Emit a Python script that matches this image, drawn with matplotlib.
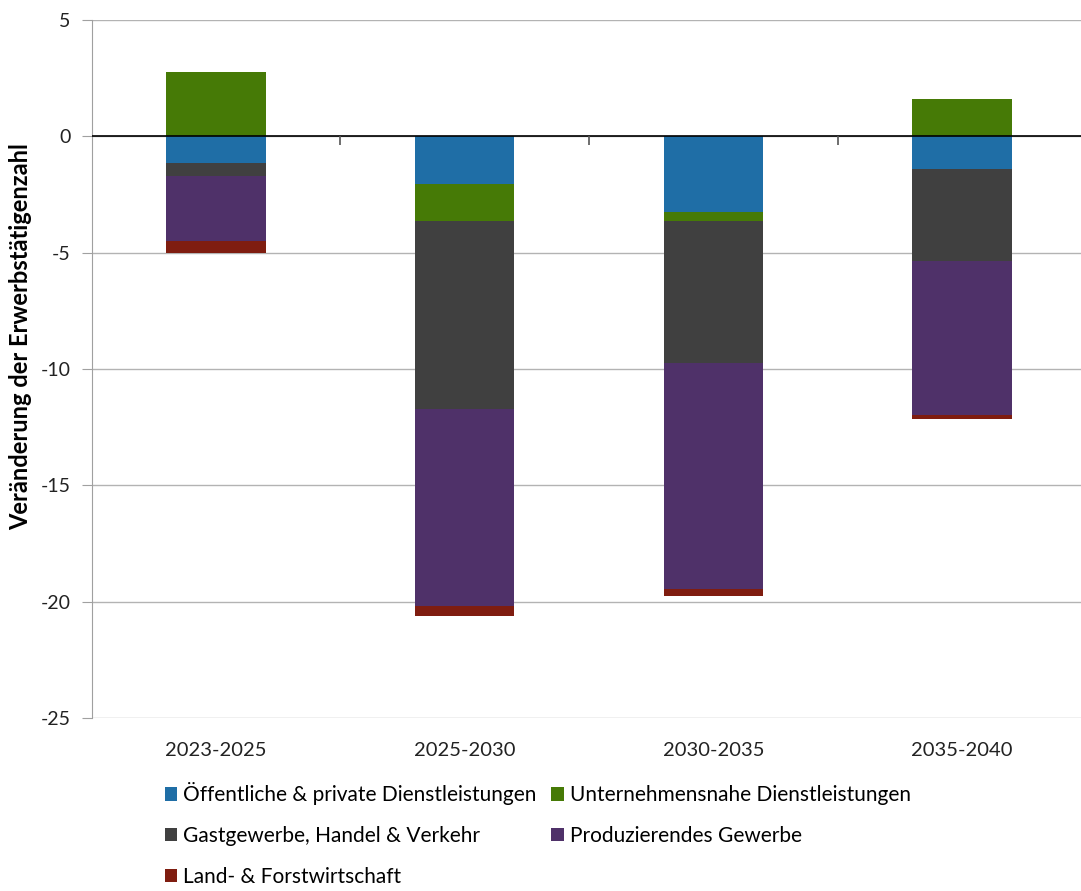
import numpy as np
import matplotlib
matplotlib.use('Agg')
import matplotlib.pyplot as plt

plt.rcParams['font.family'] = ['Lato', 'DejaVu Sans']
plt.rcParams['axes.unicode_minus'] = False

periods = ['2023-2025', '2025-2030', '2030-2035', '2035-2040']
names = ['Öffentliche & private Dienstleistungen', 'Unternehmensnahe Dienstleistungen',
         'Gastgewerbe, Handel & Verkehr', 'Produzierendes Gewerbe', 'Land- & Forstwirtschaft']
oeffentlich = [-1.15, -2.03, -3.24, -1.41]
unternehmen = [2.76, -1.61, -0.41, 1.60]
gastgewerbe = [-0.56, -8.09, -6.10, -3.95]
produzierend = [-2.79, -8.47, -9.69, -6.63]
land = [-0.53, -0.43, -0.33, -0.14]
colors = ['#1F6EA6', '#467A06', '#404040', '#4F3169', '#7F1D10']

series = [oeffentlich, unternehmen, gastgewerbe, produzierend, land]

fig = plt.figure(figsize=(10.81, 8.91), dpi=100)
ax = fig.add_axes([91.5/1081, 1 - 718/891, 995/1081, 698/891])

x = np.arange(len(periods))
pos = np.zeros(len(periods))
neg = np.zeros(len(periods))
bars = []
for vals, name, c in zip(series, names, colors):
    vals = np.array(vals)
    bottom = np.where(vals >= 0, pos, neg)
    b = ax.bar(x, vals, 0.4, bottom=bottom, color=c, label=name, zorder=3)
    bars.append(b)
    pos = np.where(vals >= 0, pos + vals, pos)
    neg = np.where(vals < 0, neg + vals, neg)

ax.set_xlim(-0.5, 3.5)
ax.set_ylim(-25, 5)
ax.set_yticks(np.arange(-25, 6, 5))
ax.grid(axis='y', color='#B3B3B3', linewidth=1, zorder=0)
ax.axhline(0, color='black', linewidth=1.2, zorder=4)
# category separators on the zero line
ax.vlines([0.5, 1.5, 2.5], -0.36, 0, color='#555555', linewidth=1.2, zorder=4)

for s in ['top', 'right', 'bottom']:
    ax.spines[s].set_visible(False)
ax.spines['left'].set_color('#A0A0A0')
ax.tick_params(axis='y', length=7, color='#A0A0A0', labelsize=14, labelcolor='#222222', pad=8)
ax.set_xticks(x)
ax.set_xticklabels(periods, fontsize=14.5, color='#222222')
ax.tick_params(axis='x', length=0, pad=17)

ax.set_ylabel('Veränderung der Erwerbstätigenzahl', fontsize=17, fontweight='bold')
ax.yaxis.set_label_coords(-0.06, 0.547)

order = [0, 2, 4, 1, 3]
leg = fig.legend([bars[i] for i in order], [names[i] for i in order], ncol=2,
                 loc='upper left', bbox_to_anchor=(0.135, 0.143), frameon=False,
                 fontsize=15, handlelength=0.6, handleheight=0.6, handletextpad=0.3,
                 columnspacing=0.7, labelspacing=1.0)

fig.savefig('out.png', dpi=100)
